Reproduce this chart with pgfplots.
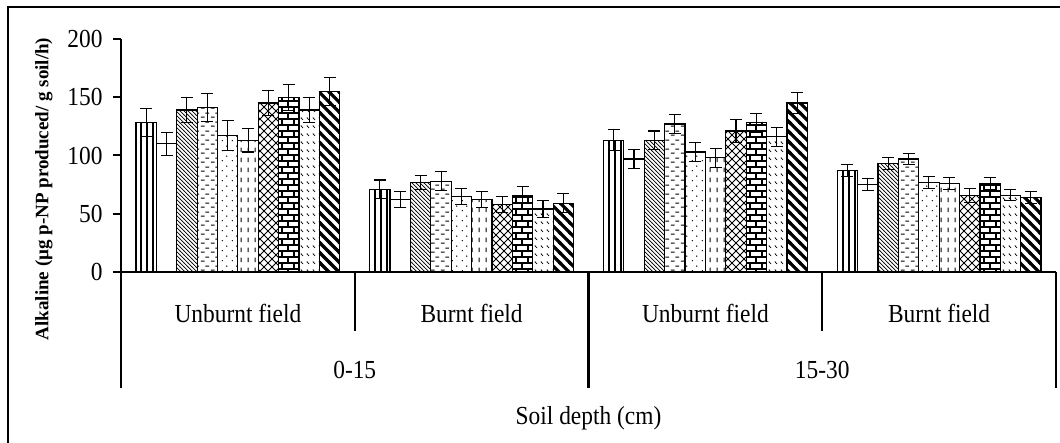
\documentclass[border=0pt]{standalone}
\usepackage{fontspec}
\setmainfont{Liberation Serif}[FakeStretch=0.9]
\newfontfamily\labfont{Liberation Serif}
\usepackage{pgfplots}
\pgfplotsset{compat=1.18}
\usetikzlibrary{patterns}

% hatch fills, sizes in pt (1pt = 1 px of the reference)
\pgfdeclarepatternformonly{vlines}{\pgfqpoint{0pt}{-1pt}}{\pgfqpoint{6pt}{7pt}}{\pgfqpoint{6pt}{6pt}}{
  \pgfsetlinewidth{1.1pt}
  \pgfpathmoveto{\pgfqpoint{3pt}{-1pt}}\pgfpathlineto{\pgfqpoint{3pt}{7pt}}
  \pgfusepath{stroke}}
\pgfdeclarepatternformonly{nwfine}{\pgfqpoint{-1pt}{-1pt}}{\pgfqpoint{5pt}{5pt}}{\pgfqpoint{4pt}{4pt}}{
  \pgfsetlinewidth{0.7pt}
  \pgfpathmoveto{\pgfqpoint{-0.2pt}{4.2pt}}\pgfpathlineto{\pgfqpoint{4.2pt}{-0.2pt}}
  \pgfusepath{stroke}}
\pgfdeclarepatternformonly{hdash}{\pgfqpoint{0pt}{0pt}}{\pgfqpoint{10pt}{9pt}}{\pgfqpoint{10pt}{9pt}}{
  \pgfsetlinewidth{1.2pt}
  \pgfpathmoveto{\pgfqpoint{1pt}{2pt}}\pgfpathlineto{\pgfqpoint{5pt}{2pt}}
  \pgfpathmoveto{\pgfqpoint{6pt}{6.5pt}}\pgfpathlineto{\pgfqpoint{10pt}{6.5pt}}
  \pgfusepath{stroke}}
\pgfdeclarepatternformonly{sdots}{\pgfqpoint{0pt}{0pt}}{\pgfqpoint{10pt}{10pt}}{\pgfqpoint{10pt}{10pt}}{
  \pgfpathcircle{\pgfqpoint{2.5pt}{2.5pt}}{0.8pt}
  \pgfpathcircle{\pgfqpoint{7.5pt}{7.5pt}}{0.8pt}
  \pgfusepath{fill}}
\pgfdeclarepatternformonly{vdash}{\pgfqpoint{0pt}{0pt}}{\pgfqpoint{7pt}{10pt}}{\pgfqpoint{7pt}{10pt}}{
  \pgfsetlinewidth{1.2pt}
  \pgfpathmoveto{\pgfqpoint{3.5pt}{1pt}}\pgfpathlineto{\pgfqpoint{3.5pt}{6pt}}
  \pgfusepath{stroke}}
\pgfdeclarepatternformonly{xhatch}{\pgfqpoint{-1pt}{-1pt}}{\pgfqpoint{9pt}{9pt}}{\pgfqpoint{8pt}{8pt}}{
  \pgfsetlinewidth{0.9pt}
  \pgfpathmoveto{\pgfqpoint{-0.2pt}{-0.2pt}}\pgfpathlineto{\pgfqpoint{8.2pt}{8.2pt}}
  \pgfpathmoveto{\pgfqpoint{-0.2pt}{8.2pt}}\pgfpathlineto{\pgfqpoint{8.2pt}{-0.2pt}}
  \pgfusepath{stroke}}
\pgfdeclarepatternformonly{mybricks}{\pgfqpoint{-1pt}{-1pt}}{\pgfqpoint{13pt}{13pt}}{\pgfqpoint{12pt}{12pt}}{
  \pgfsetlinewidth{1.1pt}
  \pgfpathmoveto{\pgfqpoint{-0.5pt}{0pt}}\pgfpathlineto{\pgfqpoint{12.5pt}{0pt}}
  \pgfpathmoveto{\pgfqpoint{-0.5pt}{6pt}}\pgfpathlineto{\pgfqpoint{12.5pt}{6pt}}
  \pgfpathmoveto{\pgfqpoint{0pt}{0pt}}\pgfpathlineto{\pgfqpoint{0pt}{6pt}}
  \pgfpathmoveto{\pgfqpoint{6pt}{6pt}}\pgfpathlineto{\pgfqpoint{6pt}{12pt}}
  \pgfusepath{stroke}}
\pgfdeclarepatternformonly{dashdiag}{\pgfqpoint{0pt}{0pt}}{\pgfqpoint{6pt}{8pt}}{\pgfqpoint{6pt}{8pt}}{
  \pgfsetlinewidth{0.9pt}
  \pgfpathmoveto{\pgfqpoint{1pt}{6pt}}\pgfpathlineto{\pgfqpoint{3.5pt}{3.5pt}}
  \pgfusepath{stroke}}
\pgfdeclarepatternformonly{thicknw}{\pgfqpoint{-3pt}{-3pt}}{\pgfqpoint{13pt}{13pt}}{\pgfqpoint{10pt}{10pt}}{
  \pgfsetlinewidth{3.2pt}
  \pgfpathmoveto{\pgfqpoint{-1pt}{11pt}}\pgfpathlineto{\pgfqpoint{11pt}{-1pt}}
  \pgfusepath{stroke}}

\begin{document}
\begin{tikzpicture}[x=1pt,y=1pt]
\useasboundingbox (0,0) rectangle (1060,443);
\draw[line width=1.3pt] (8,0) -- (8,436) -- (1060,436);
\begin{axis}[
  at={(121pt,171pt)}, anchor=south west,
  scale only axis, width=935pt, height=233pt,
  xmin=0, xmax=4, ymin=0, ymax=200,
  axis x line*=bottom, axis y line*=left,
  axis line style={line width=2.2pt},
  xtick=\empty, ytick={0,50,...,200},
  tick align=outside, major tick length=8pt,
  every tick/.style={black, line width=2pt},
  /pgf/number format/assume math mode=true,
  yticklabel style={font=\fontsize{26}{26}\selectfont, xshift=-7pt},
  ybar=0pt, bar width=0.0872,
  every axis plot/.append style={draw=black, line width=1.2pt},
  error bars/y dir=both, error bars/y explicit,
  error bars/error bar style={line width=1.1pt, black},
  error bars/error mark options={rotate=90, mark size=6pt, line width=1.1pt, black},
  clip=false,
]
\addplot[pattern=vlines] coordinates {(0.5,128) +- (0,12) (1.5,71) +- (0,8) (2.5,113) +- (0,9) (3.5,87) +- (0,5)};
\addplot[fill=white] coordinates {(0.5,110) +- (0,10) (1.5,62) +- (0,7) (2.5,97) +- (0,8) (3.5,75) +- (0,5)};
\addplot[pattern=nwfine] coordinates {(0.5,139) +- (0,11) (1.5,77) +- (0,6) (2.5,113) +- (0,8) (3.5,93) +- (0,5)};
\addplot[pattern=hdash] coordinates {(0.5,141) +- (0,12) (1.5,78) +- (0,8) (2.5,127) +- (0,8) (3.5,97) +- (0,5)};
\addplot[pattern=sdots] coordinates {(0.5,117) +- (0,13) (1.5,65) +- (0,7) (2.5,103) +- (0,8) (3.5,77) +- (0,5)};
\addplot[pattern=vdash] coordinates {(0.5,113) +- (0,10) (1.5,62) +- (0,7) (2.5,98) +- (0,8) (3.5,76) +- (0,5)};
\addplot[pattern=xhatch] coordinates {(0.5,145) +- (0,11) (1.5,58) +- (0,7) (2.5,121) +- (0,10) (3.5,66) +- (0,6)};
\addplot[pattern=mybricks] coordinates {(0.5,150) +- (0,11) (1.5,66) +- (0,7) (2.5,128) +- (0,8) (3.5,76) +- (0,5)};
\addplot[pattern=dashdiag] coordinates {(0.5,139) +- (0,11) (1.5,54) +- (0,7) (2.5,116) +- (0,8) (3.5,66) +- (0,5)};
\addplot[pattern=thicknw] coordinates {(0.5,155) +- (0,12) (1.5,59) +- (0,8) (2.5,145) +- (0,9) (3.5,64) +- (0,5)};

% category dividers and labels
\draw[line width=2.2pt] (axis cs:1,0) -- ([yshift=-59pt]axis cs:1,0);
\draw[line width=2.2pt] (axis cs:3,0) -- ([yshift=-59pt]axis cs:3,0);
\draw[line width=2.2pt] (axis cs:0,0) -- ([yshift=-116pt]axis cs:0,0);
\draw[line width=2.2pt] (axis cs:2,0) -- ([yshift=-116pt]axis cs:2,0);
\draw[line width=2.2pt] (axis cs:4,0) -- ([yshift=-116pt]axis cs:4,0);
\node[font=\fontsize{26}{26}\selectfont] at ([yshift=-41pt]axis cs:0.5,0) {Unburnt field};
\node[font=\fontsize{26}{26}\selectfont] at ([yshift=-41pt]axis cs:1.5,0) {Burnt field};
\node[font=\fontsize{26}{26}\selectfont] at ([yshift=-41pt]axis cs:2.5,0) {Unburnt field};
\node[font=\fontsize{26}{26}\selectfont] at ([yshift=-41pt]axis cs:3.5,0) {Burnt field};
\node[font=\fontsize{26}{26}\selectfont] at ([yshift=-98pt]axis cs:1,0) {0-15};
\node[font=\fontsize{26}{26}\selectfont] at ([yshift=-98pt]axis cs:3,0) {15-30};
\node[font=\fontsize{26}{26}\selectfont] at ([yshift=-146pt]axis cs:2,0) {Soil depth (cm)};
\end{axis}
\node[rotate=90, font=\labfont\bfseries\fontsize{19}{19}\selectfont] at (44,254) {Alkaline (µg p-NP produced/ g soil/h)};
\end{tikzpicture}
\end{document}
